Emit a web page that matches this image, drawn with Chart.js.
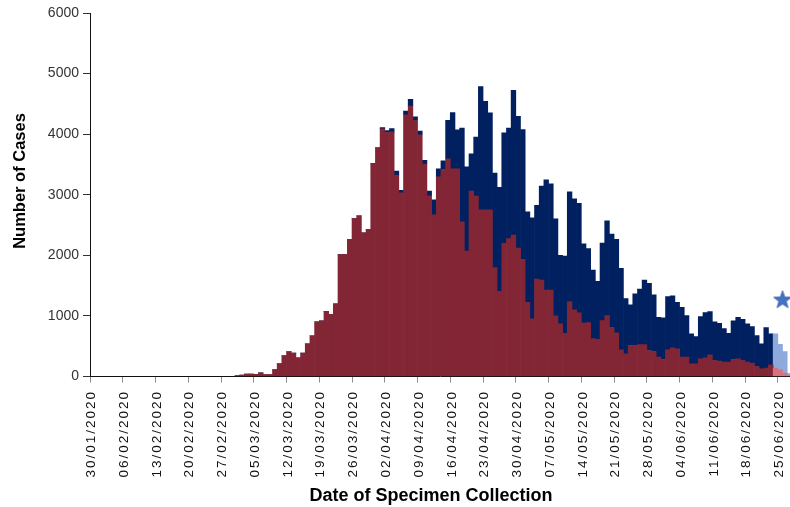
<!DOCTYPE html>
<html>
<head>
<meta charset="utf-8">
<script src="https://cdn.jsdelivr.net/npm/chart.js@4/dist/chart.umd.min.js"></script>
<style>
  html, body { margin: 0; padding: 0; background: #fff; }
  #wrap { width: 790px; height: 507px; position: relative; }
</style>
</head>
<body>
<div id="wrap"><canvas id="chart"></canvas></div>
<script>
// day 0 = 30/01/2020; series start at day 31 (01/03/2020), earlier days are zero
const firstDataDay = 31;

// red part of each bar (lower segment)
const redCases = [
  17, 22, 39, 39, 35, 60, 33, 33, 115, 215, 347, 413, 386, 308, 386, 540,
  672, 903, 920, 1075, 1025, 1200, 2011, 2017, 2260, 2606, 2650, 2370, 2424, 3520, 3780,
  4090, 4028, 4039, 3322, 3030, 4320, 4465, 4225, 3990, 3505, 2983, 2670, 3296, 3417,
  3593, 3428, 3428, 2555, 2071, 3060, 2978, 2752, 2752, 2752, 1797, 1406, 2198, 2275,
  2335, 2121, 1934, 1225, 950, 1610, 1593, 1428, 1428, 1000, 868, 714, 1236, 1099,
  1049, 882, 888, 625, 615, 923, 1005, 813, 720, 440, 374, 511, 511, 527, 527, 429,
  412, 319, 280, 440, 472, 456, 319, 319, 209, 209, 291, 308, 357, 264, 253, 236,
  236, 280, 291, 264, 236, 220, 165, 126, 140, 192, 140, 110, 55, 20
];

// navy part stacked on top of the red
const navyCases = [
  0, 0, 0, 0, 0, 0, 0, 0, 0, 0, 0, 0, 0, 0, 0, 0,
  0, 0, 0, 0, 0, 0, 0, 0, 0, 0, 0, 0, 0, 0, 0,
  20, 33, 55, 67, 45, 60, 110, 60, 60, 65, 77, 247, 132, 143,
  637, 929, 643, 1544, 1390, 615, 972, 2033, 1792, 1599, 1560, 1715, 1824, 1824,
  2390, 2175, 2143, 1495, 1671, 1214, 1550, 1819, 1753, 1604, 1131, 1275, 1813, 1835,
  1808, 1308, 1222, 1133, 956, 1280, 1566, 1538, 1544, 1346, 912, 670, 852, 918, 1066,
  1109, 934, 659, 687, 879, 858, 769, 824, 686, 494, 450, 698, 747, 714, 637, 626,
  555, 478, 637, 687, 681, 632, 604, 511, 412, 668, 511, 563, 420, 355, 30
];

// the last days are drawn lighter (incomplete)
const firstIncompleteDay = 146;

// star marker
const starDay = [148];
const starValue = [1270];

const tickLabels = [
  "30/01/2020", "06/02/2020", "13/02/2020", "20/02/2020", "27/02/2020",
  "05/03/2020", "12/03/2020", "19/03/2020", "26/03/2020", "02/04/2020",
  "09/04/2020", "16/04/2020", "23/04/2020", "30/04/2020", "07/05/2020",
  "14/05/2020", "21/05/2020", "28/05/2020", "04/06/2020", "11/06/2020",
  "18/06/2020", "25/06/2020"
];
const tickStep = 7;

const FONT = '"Liberation Sans", Arial, sans-serif';
Chart.defaults.font.family = FONT;

function toPoints(arr) {
  return arr.map((v, i) => ({ x: firstDataDay + i + 0.5, y: v }));
}

function shade(dark, light) {
  return function (ctx) {
    const p = ctx.raw;
    if (p && p.x >= firstIncompleteDay) return light;
    return dark;
  };
}

// filled 5 point star used as the point style
function makeStar() {
  const c = document.createElement("canvas");
  c.width = 20;
  c.height = 20;
  const g = c.getContext("2d");
  g.beginPath();
  for (let k = 0; k < 10; k++) {
    const r = k % 2 === 0 ? 9.3 : 3.8;
    const a = -Math.PI / 2 + (k * Math.PI) / 5;
    const px = 10 + Math.cos(a) * r;
    const py = 10.6 + Math.sin(a) * r;
    if (k === 0) g.moveTo(px, py);
    else g.lineTo(px, py);
  }
  g.closePath();
  g.fillStyle = "#4472C4";
  g.fill();
  g.strokeStyle = "#2F5597";
  g.lineWidth = 0.8;
  g.stroke();
  return c;
}

// x tick labels (spaced out like the original) and both axis titles
const textPlugin = {
  id: "axisText",
  afterDraw(chart) {
    const ctx = chart.ctx;
    const xs = chart.scales.x;
    ctx.save();
    ctx.font = "13.5px " + FONT;
    ctx.letterSpacing = "2px";
    ctx.fillStyle = "#111";
    ctx.textAlign = "right";
    ctx.textBaseline = "middle";
    tickLabels.forEach((lab, i) => {
      const px = xs.getPixelForValue(i * tickStep);
      ctx.save();
      ctx.translate(px + 1.5, 390);
      ctx.rotate(-Math.PI / 2);
      ctx.fillText(lab, 0, 0);
      ctx.restore();
    });
    ctx.letterSpacing = "0px";
    ctx.fillStyle = "#000";
    ctx.textAlign = "center";
    ctx.font = "bold 18px " + FONT;
    ctx.fillText("Date of Specimen Collection", 431, 496);
    ctx.save();
    ctx.translate(20.5, 181);
    ctx.rotate(-Math.PI / 2);
    ctx.font = "bold 16.5px " + FONT;
    ctx.fillText("Number of Cases", 0, 0);
    ctx.restore();
    ctx.restore();
  },
};

new Chart(document.getElementById("chart"), {
  type: "bar",
  data: {
    datasets: [
      {
        label: "Red",
        data: toPoints(redCases),
        backgroundColor: shade("#822535", "#D9707F"),
        borderWidth: 0,
        barPercentage: 1,
        categoryPercentage: 1,
        stack: "cases",
        order: 2,
      },
      {
        label: "Navy",
        data: toPoints(navyCases),
        backgroundColor: shade("#002060", "#8EA9DB"),
        borderWidth: 0,
        barPercentage: 1,
        categoryPercentage: 1,
        stack: "cases",
        order: 2,
      },
      {
        type: "scatter",
        label: "Star",
        data: starDay.map((d, i) => ({ x: d, y: starValue[i] })),
        pointStyle: makeStar(),
        stack: "star",
        order: 1,
      },
    ],
  },
  options: {
    responsive: true,
    maintainAspectRatio: false,
    animation: false,
    layout: { autoPadding: false, padding: { top: 13, left: 0, right: 0, bottom: 0 } },
    plugins: {
      legend: { display: false },
      tooltip: { enabled: false },
    },
    scales: {
      x: {
        type: "linear",
        min: 0,
        max: 149.6,
        offset: false,
        stacked: true,
        afterBuildTicks: (s) => {
          s.ticks = tickLabels.map((_, i) => ({ value: i * tickStep }));
        },
        ticks: { display: false },
        grid: {
          offset: false,
          drawOnChartArea: false,
          drawTicks: true,
          tickLength: 6,
          color: "#8c8c8c",
        },
        border: { display: true, color: "#111", width: 1 },
        afterFit: (s) => {
          s.height = 130.5;
        },
      },
      y: {
        min: 0,
        max: 6000,
        stacked: true,
        ticks: {
          stepSize: 1000,
          color: "#333",
          font: { size: 14 },
          padding: 4,
          callback: (v) => String(v),
        },
        grid: {
          drawOnChartArea: false,
          tickLength: 7,
          color: "#333",
        },
        border: { display: true, color: "#111", width: 1 },
        afterFit: (s) => {
          s.width = 90;
        },
      },
    },
  },
  plugins: [textPlugin],
});
</script>
</body>
</html>
